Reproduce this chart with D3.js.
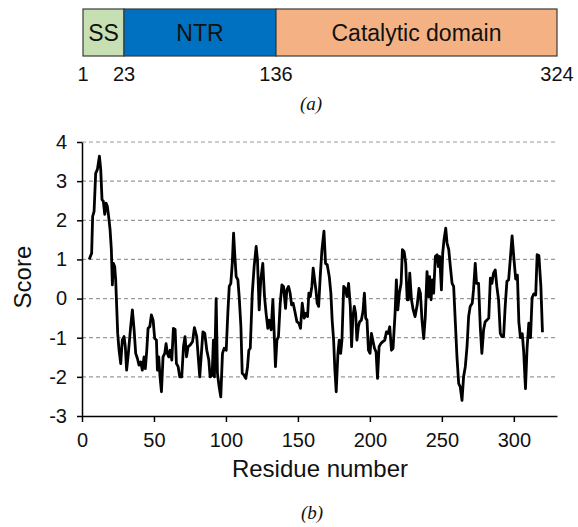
<!DOCTYPE html>
<html>
<head>
<meta charset="utf-8">
<script src="https://cdn.jsdelivr.net/npm/d3@7"></script>
<style>
body { margin: 0; background: #fff; }
text { font-family: Arial, "Liberation Sans", sans-serif; fill: #111; }
.cap { font-family: "Times New Roman", "Liberation Serif", serif; font-style: italic; }
</style>
</head>
<body>
<div id="chart"></div>
<script>
(function(){
var W = 578, H = 527;

// domain map (a)
var domainNames = ["SS", "NTR", "Catalytic domain"];
var domainStarts = [1, 23, 136];
var domainEnds = [23, 136, 324];
var boundaryLabels = [1, 23, 136, 324];

// hydrophobicity profile (b)
var residues = [5, 6.7, 7.4, 8.4, 9.5, 10.7, 12.1, 13.0, 13.9, 14.8, 15.8, 16.7, 17.6, 18.5, 19.5, 20.4, 21.1, 21.8, 22.7, 23.4,
  24.1, 24.8, 25.7, 26.9, 28.0, 29.2, 30.1, 31.0, 32.2, 33.8, 35.0, 36.2, 37.3, 38.5, 39.6, 40.8, 41.9, 43.1, 44.0, 45.0,
  45.9, 47.1, 48.2, 49.4, 50.5, 51.7, 52.4, 53.3, 54.2, 55.2, 56.3, 57.5, 58.4, 59.3, 60.3, 61.2, 62.4, 63.5, 64.7, 65.6,
  66.8, 67.9, 69.3, 70.5, 71.6, 72.6, 73.7, 75.1, 76.8, 78.1, 79.7, 81.8, 84.0, 85.3, 86.7, 88.1, 89.0, 90.4, 91.3, 92.0,
  93.2, 94.1, 95.3, 96.4, 97.6, 98.8, 100.2, 101.3, 102.3, 103.4, 104.4, 105.3, 106.2, 107.1, 108.3, 109.2, 110.4, 111.3, 112.7, 113.8,
  115.0, 115.9, 116.9, 118.3, 119.6, 121.0, 121.9, 123.1, 124.2, 125.6, 126.8, 127.9, 129.1, 130.0, 131.4, 132.6, 133.8, 134.4, 135.4, 136.5,
  137.7, 138.9, 140.0, 141.4, 142.3, 143.5, 144.6, 145.6, 146.7, 147.9, 149.3, 150.7, 151.8, 153.0, 154.4, 155.5, 156.7, 157.6, 158.6, 159.7,
  160.6, 161.6, 162.5, 163.4, 164.4, 165.5, 166.7, 168.1, 169.2, 170.4, 171.8, 172.9, 173.8, 174.8, 175.7, 176.6, 177.8, 178.7, 179.7, 180.6,
  181.8, 182.9, 184.1, 185.2, 186.4, 187.3, 188.2, 189.2, 190.1, 191.0, 192.0, 192.9, 194.1, 195.2, 196.2, 197.1, 198.0, 199.0, 200.1, 201.1,
  202.0, 203.2, 204.3, 205.3, 206.4, 207.6, 209.0, 210.4, 211.5, 212.7, 213.8, 215.0, 216.1, 217.5, 218.4, 219.4, 220.5, 221.7, 222.6, 223.8,
  224.9, 225.9, 226.8, 227.7, 228.9, 230.1, 231.4, 232.9, 234.1, 235.1, 236.2, 237.4, 238.5, 239.7, 240.8, 241.5, 242.5, 243.4, 244.3, 245.5,
  246.7, 247.6, 248.5, 249.7, 250.6, 251.5, 252.7, 253.6, 254.8, 255.9, 257.1, 258.2, 259.4, 260.5, 261.7, 262.8, 264.0, 265.1, 266.3, 267.5,
  268.6, 269.7, 271.1, 272.0, 273.2, 274.1, 275.5, 276.7, 277.8, 279.0, 280.1, 281.3, 282.6, 283.7, 284.8, 285.9, 287.1, 288.2, 289.4, 290.6,
  291.7, 292.9, 294.0, 295.2, 296.4, 297.5, 298.8, 300.0, 301.3, 302.5, 303.5, 304.6, 305.9, 306.9, 308.1, 309.2, 310.4, 311.6, 312.7, 313.9,
  315.2, 316.2, 317.4, 318.8, 319.9];
var scores = [1.0, 1.16, 2.1, 2.23, 3.2, 3.3, 3.64, 3.3, 2.53, 2.49, 2.15, 2.44, 2.36, 2.1, 1.76, 1.25, 0.35, 0.9, 0.82, 0.48,
  -0.2, -0.89, -1.3, -1.66, -1.06, -0.97, -1.23, -1.83, -1.4, -0.72, -0.29, -0.8, -1.4, -1.53, -1.7, -1.62, -1.83, -1.49, -1.79, -1.32,
  -0.76, -0.72, -0.42, -0.55, -1.02, -1.06, -1.83, -1.49, -2.0, -2.38, -1.49, -1.4, -1.15, -1.4, -1.49, -1.32, -1.57, -0.76, -0.79, -1.66,
  -1.74, -2.0, -2.0, -1.23, -0.97, -1.49, -1.23, -1.19, -1.1, -0.74, -0.97, -2.0, -0.85, -0.89, -1.32, -1.57, -2.0, -1.96, -1.06, -2.0,
  0.0, -1.91, -2.26, -2.51, -1.4, -1.27, -1.32, -0.38, 0.31, 0.39, 0.9, 1.67, 1.08, 0.56, 0.48, 0.05, -0.72, -1.91, -1.96, -2.04,
  -1.74, -1.32, -1.27, 0.14, 0.82, 1.33, 0.99, -0.29, 0.48, 0.9, 0.05, -0.38, -0.76, -0.55, -0.8, -0.03, -1.15, -1.74, -1.06, -0.97,
  -0.12, 0.35, 0.31, -0.25, 0.22, 0.31, 0.14, -0.16, -0.12, -0.33, -0.59, -0.63, -0.76, -0.12, -0.5, -0.38, -0.46, 0.14, 0.05, 0.31,
  0.78, 0.48, 0.22, -0.12, -0.2, 0.56, 1.25, 1.72, 0.9, 0.86, 0.56, 0.14, -0.55, -1.06, -1.83, -2.38, -1.4, -1.06, -1.4, -1.06,
  0.31, 0.26, 0.05, 0.39, -0.2, -1.23, -0.46, -0.2, -0.38, -1.06, -0.72, -0.59, -0.55, -0.33, 0.14, -0.5, -0.55, -1.32, -1.4, -0.89,
  -1.06, -1.27, -1.36, -2.04, -1.23, -1.15, -1.1, -1.06, -0.85, -0.89, -0.72, -1.32, -1.27, -0.38, 0.48, -0.29, 0.14, 0.39, 1.25, 1.2,
  0.9, -0.03, -0.03, 0.65, -0.03, -0.29, -0.46, -0.16, 0.26, 0.14, -0.55, -1.02, -0.46, 0.69, 0.05, 0.56, -0.03, 0.48, 0.14, 1.08,
  1.12, 0.82, 1.08, 0.22, 1.16, 1.5, 1.8, 1.42, 1.25, 0.82, 0.39, 0.31, -0.63, -1.49, -2.17, -2.26, -2.6, -2.0, -1.74, -1.23,
  -0.46, -0.2, -0.12, 0.22, 0.9, 0.39, 0.39, -0.72, -1.4, -0.8, -0.59, -0.55, -0.5, 0.52, 0.39, 0.65, 0.73, 0.31, -0.03, -0.89,
  -0.97, -0.97, -0.2, 0.44, 0.48, 0.99, 1.6, 1.05, 0.5, 0.6, -0.6, -1.0, -0.9, -1.38, -2.3, -1.27, -0.63, -1.0, 0.02, 0.12,
  0.09, 1.12, 1.1, 0.31, -0.86];

var xTicks = [0, 50, 100, 150, 200, 250, 300];
var yTicks = [-3, -2, -1, 0, 1, 2, 3, 4];

var colorMap = {
  "SS": "#c6e0b4",
  "NTR": "#0070c0",
  "Catalytic domain": "#f4b183"
};

var svg = d3.select("#chart")
  .append("svg")
  .attr("width", W)
  .attr("height", H);

// ---------- (a) domain bar ----------
var bx = d3.scaleLinear()
  .domain([1, 23, 136, 324])
  .range([83, 124, 276, 557]);
var barTop = 9, barH = 47;

var domains = domainNames.map(function(n, i){
  return {name: n, start: domainStarts[i], end: domainEnds[i]};
});

svg.selectAll(".dom")
  .data(domains)
  .enter()
  .append("rect")
  .attr("x", function(d){ return bx(d.start); })
  .attr("y", barTop)
  .attr("width", function(d){ return bx(d.end) - bx(d.start); })
  .attr("height", barH)
  .style("fill", function(d){ return colorMap[d.name]; })
  .attr("stroke", "#3a3a3a")
  .attr("stroke-width", 1.2);

svg.selectAll(".domLabel")
  .data(domains)
  .enter()
  .append("text")
  .attr("x", function(d){ return (bx(d.start) + bx(d.end)) / 2; })
  .attr("y", barTop + barH / 2 + 8)
  .attr("text-anchor", "middle")
  .attr("font-size", "23px")
  .text(function(d){ return d.name; });

svg.selectAll(".bnd")
  .data(boundaryLabels)
  .enter()
  .append("text")
  .attr("x", function(d){ return bx(d); })
  .attr("y", 81)
  .attr("text-anchor", "middle")
  .attr("font-size", "20px")
  .text(function(d){ return d; });

svg.append("text")
  .attr("class", "cap")
  .attr("x", 311)
  .attr("y", 110)
  .attr("text-anchor", "middle")
  .attr("font-size", "19px")
  .text("(a)");

// ---------- (b) score profile ----------
var x = d3.scaleLinear().domain([0, 330]).range([82, 557]);
var y = d3.scaleLinear().domain([-3, 4]).range([416, 142]);

// dashed grid
svg.append("g")
  .selectAll("line")
  .data(yTicks.filter(function(t){ return t > -3; }))
  .enter()
  .append("line")
  .attr("x1", x(0))
  .attr("x2", x(330))
  .attr("y1", function(d){ return y(d); })
  .attr("y2", function(d){ return y(d); })
  .attr("stroke", "#9a9a9a")
  .attr("stroke-width", 1.2)
  .attr("stroke-dasharray", "4,3");

var xAxis = svg.append("g")
  .attr("transform", "translate(0," + y(-3) + ")")
  .call(d3.axisBottom(x).tickValues(xTicks).tickSize(6).tickSizeOuter(0).tickPadding(11)
    .tickFormat(function(d){ return String(d); }));

var yAxis = svg.append("g")
  .attr("transform", "translate(" + x(0) + ",0)")
  .call(d3.axisLeft(y).tickValues(yTicks).tickSize(5).tickSizeOuter(0).tickPadding(10)
    .tickFormat(function(d){ return String(d); }));

[xAxis, yAxis].forEach(function(g){
  g.select(".domain").attr("stroke", "#000").attr("stroke-width", 1.5);
  g.selectAll(".tick line").attr("stroke", "#000").attr("stroke-width", 1.5);
  g.selectAll(".tick text")
    .attr("font-size", "20px")
    .attr("font-family", "Arial, 'Liberation Sans', sans-serif")
    .attr("fill", "#111");
});

var profile = residues.map(function(r, i){ return {r: r, s: scores[i]}; });

svg.append("path")
  .datum(profile)
  .attr("fill", "none")
  .attr("stroke", "#000")
  .attr("stroke-width", 2.8)
  .attr("stroke-linejoin", "round")
  .attr("d", d3.line()
    .x(function(d){ return x(d.r); })
    .y(function(d){ return y(d.s); }));

// axis titles
svg.append("text")
  .attr("text-anchor", "middle")
  .attr("transform", "translate(31," + y(0.55) + ") rotate(-90)")
  .attr("font-size", "24px")
  .text("Score");

svg.append("text")
  .attr("x", 320)
  .attr("y", 477)
  .attr("text-anchor", "middle")
  .attr("font-size", "24px")
  .text("Residue number");

svg.append("text")
  .attr("class", "cap")
  .attr("x", 312)
  .attr("y", 519)
  .attr("text-anchor", "middle")
  .attr("font-size", "19px")
  .text("(b)");

})();
</script>
</body>
</html>
